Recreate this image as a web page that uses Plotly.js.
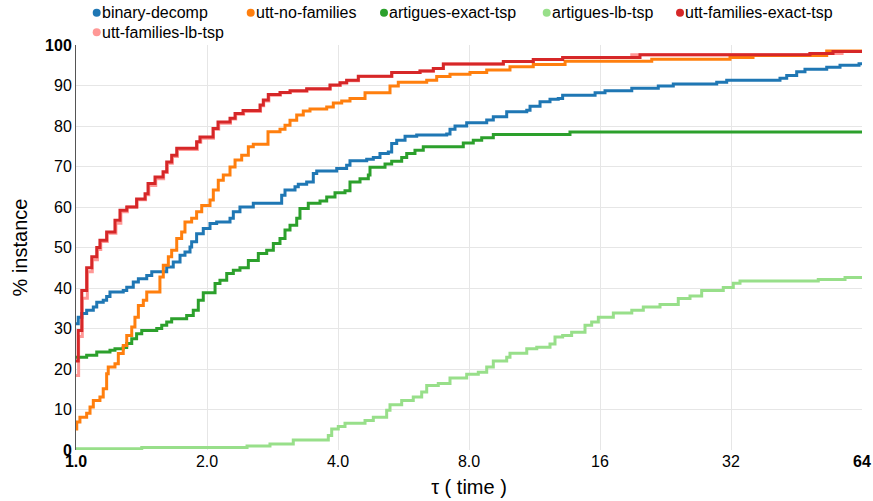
<!DOCTYPE html>
<html>
<head>
<meta charset="utf-8">
<script src="https://cdn.plot.ly/plotly-3.0.1.min.js"></script>
<style>html,body{margin:0;padding:0;background:#fff;}#chart{width:873px;height:501px;}</style>
</head>
<body>
<div id="chart"></div>
<script>
// ---- data (tau = performance ratio, pct = % of instances) ----
const seriesNames = ["binary-decomp","utt-no-families","artigues-exact-tsp","artigues-lb-tsp","utt-families-exact-tsp","utt-families-lb-tsp"];
const seriesColors = ["#1f77b4","#ff7f0e","#2ca02c","#98df8a","#d62728","#ff9896"];

const binaryTau = [1.0,1.012,1.031,1.058,1.096,1.116,1.155,1.176,1.197,1.284,1.308,1.354,1.391,1.454,1.493,1.616,1.673,1.734,1.780,1.828,1.844,1.893,1.961,2.032,2.105,2.259,2.299,2.381,2.555,2.969,3.022,3.186,3.242,3.389,3.510,3.574,3.973,4.187,4.262,4.656,4.822,4.995,5.220,5.314,5.457,5.703,6.066,7.110,7.235,7.429,7.903,8.786,9.098,9.766,10.86,11.05,11.65,12.28,12.83,13.13,15.59,16.43,18.93,21.78,23.58,29.67,31.28,41.47,42.97,45.3,47.33,53.1,56.97,63.0,64];
const binaryPct = [31.2,32.8,33.7,34.5,35.3,36.5,37.0,37.9,39.0,39.4,40.2,41.5,42.3,43.1,44.0,45.2,46.4,48.1,48.9,50.1,51.4,53.4,54.7,55.9,56.3,57.2,58.8,60.0,60.9,62.9,64.2,65.0,65.6,66.2,68.3,68.9,69.5,70.3,71.4,71.8,72.2,73.2,73.6,75.7,76.5,77.5,77.8,78.0,79.2,80.0,80.8,81.5,82.3,83.5,83.9,84.9,86.0,86.6,86.8,87.6,88.2,88.7,89.3,89.9,90.4,90.8,91.3,91.8,92.5,93.4,94.0,94.5,95.0,95.4,95.4];

const uttNoTau = [1.0,1.004,1.021,1.058,1.077,1.096,1.135,1.155,1.176,1.186,1.229,1.251,1.284,1.308,1.343,1.366,1.391,1.428,1.454,1.559,1.587,1.630,1.659,1.704,1.749,1.780,1.844,1.893,1.945,2.032,2.068,2.123,2.180,2.259,2.320,2.403,2.489,2.555,2.762,2.943,3.022,3.103,3.215,3.329,3.449,3.768,3.902,4.079,4.262,4.615,5.267,5.503,6.396,6.743,7.235,8.042,8.786,9.937,11.24,13.30,21.04,31.83,35.95,53.1,64];
const uttNoPct = [5.2,6.9,8.1,9.1,10.6,12.2,13.1,15.1,18.8,20.5,21.3,23.8,25.8,28.3,30.4,32.8,35.7,37.0,39.0,42.7,45.6,47.7,49.3,52.2,53.8,56.3,57.2,58.8,60.4,61.7,64.2,66.6,67.9,69.9,71.6,72.8,74.9,75.5,78.6,79.2,80.2,81.4,82.7,83.7,84.2,84.7,85.7,86.2,86.8,88.2,89.9,90.8,91.3,92.2,92.8,93.2,93.8,94.6,95.2,96.0,96.5,96.9,97.4,98.5,98.5];

const artExactTau = [1.0,1.058,1.116,1.197,1.229,1.284,1.308,1.343,1.378,1.416,1.533,1.574,1.616,1.659,1.796,1.860,1.910,1.961,2.087,2.142,2.220,2.299,2.381,2.489,2.624,2.743,2.841,2.943,3.022,3.103,3.215,3.271,3.418,3.637,3.768,3.937,4.151,4.262,4.494,4.696,4.738,5.130,5.314,5.603,5.754,6.011,6.281,7.762,8.183,8.556,9.098,13.65,64];
const artExactPct = [22.9,23.4,24.2,24.6,25.0,25.3,26.3,27.5,28.7,29.5,30.0,30.8,31.6,32.4,33.2,34.5,37.0,38.8,41.1,41.9,43.6,44.4,45.0,46.8,48.5,49.3,51.0,52.2,54.3,55.5,57.2,59.6,60.9,61.5,62.5,63.5,64.0,66.2,67.0,67.9,69.8,70.6,71.3,72.2,73.2,74.0,74.9,75.8,76.5,77.1,77.9,78.5,78.5];

const artLbTau = [1.0,1.416,2.472,2.791,3.157,3.800,3.869,4.006,4.151,4.615,4.822,5.175,5.267,5.603,5.957,6.228,6.396,6.800,7.235,7.903,8.404,8.786,9.098,9.766,9.937,10.86,11.45,12.28,12.61,13.13,13.77,14.78,15.31,15.86,17.17,18.93,20.12,21.98,24.21,25.76,27.40,30.72,32.39,33.56,50.78,58.50,64];
const artLbPct = [0.3,0.6,1.0,1.5,2.5,3.6,5.2,5.8,6.6,7.3,8.1,9.8,11.2,12.2,13.1,14.3,15.9,16.4,17.8,18.7,19.2,20.5,22.0,22.9,23.9,25.0,25.4,26.2,27.9,28.3,29.1,30.8,31.6,32.8,33.8,34.5,35.3,35.9,37.4,38.0,39.4,40.1,41.2,41.7,42.1,42.6,42.6];

const uttFamExactTau = [1.0,1.012,1.031,1.058,1.087,1.116,1.135,1.176,1.229,1.262,1.308,1.378,1.441,1.464,1.519,1.585,1.616,1.659,1.704,1.893,1.927,2.065,2.120,2.259,2.320,2.420,2.648,2.694,2.766,2.943,3.103,3.389,3.834,4.042,4.187,4.453,5.314,6.172,6.623,6.983,9.593,11.24,13.13,19.77,48.6,54.9,64];
const uttFamExactPct = [22.0,29.5,39.4,45.0,47.7,50.0,51.8,53.8,56.7,59.2,60.0,62.0,63.3,65.8,67.4,68.7,71.1,72.8,74.5,76.1,77.3,79.4,81.0,81.9,83.1,83.8,85.2,86.4,87.8,88.3,88.7,89.2,90.1,90.7,91.3,92.3,93.2,93.6,94.2,95.3,95.9,96.4,96.9,97.6,97.9,98.4,98.4];

const uttFamLbTau = [1.0,1.014,1.034,1.062,1.090,1.120,1.140,1.180,1.235,1.268,1.312,1.382,1.445,1.470,1.525,1.590,1.622,1.665,1.710,1.900,1.935,2.070,2.128,2.265,2.328,2.428,2.655,2.700,2.775,2.950,3.110,3.395,3.840,4.050,4.190,4.460,5.320,6.180,6.630,6.990,9.600,11.25,13.14,18.93,48.6,57.6,64];
const uttFamLbPct = [18.4,28.0,37.5,44.0,47.0,49.5,51.5,53.5,56.0,58.8,60.0,61.8,63.0,65.3,67.0,68.5,70.8,72.5,74.2,76.0,77.0,79.2,80.7,81.7,82.9,83.6,85.0,86.2,87.6,88.2,88.6,89.1,90.0,90.6,91.2,92.2,93.2,93.6,94.2,95.3,95.9,96.4,96.9,97.6,97.9,98.4,98.4];

const xTickVals = [1,2,4,8,16,32,64];
const xTickText = ["<b>1.0</b>","2.0","4.0","8.0","16","32","<b>64</b>"];
const yTickVals = [0,10,20,30,40,50,60,70,80,90,100];
const yTickText = ["<b>0</b>","10","20","30","40","50","60","70","80","90","<b>100</b>"];

// ---- build traces (pink drawn first, under red) ----
const xs = [binaryTau, uttNoTau, artExactTau, artLbTau, uttFamExactTau, uttFamLbTau];
const ys = [binaryPct, uttNoPct, artExactPct, artLbPct, uttFamExactPct, uttFamLbPct];
const drawOrder = [5,3,2,0,1,4];
const traces = drawOrder.map(i => ({
  type: "scatter", mode: "lines", name: seriesNames[i],
  x: xs[i], y: ys[i],
  line: {shape: "hv", color: seriesColors[i], width: 3},
  showlegend: false, hoverinfo: "skip"
}));

// ---- legend drawn as layout decorations ----
const L = 76, W = 786, B = 450, H = 405;
const px2x = p => (p - L) / W;
const py2y = p => (B - p) / H;
const legendPos = [[96.7,12.7],[250.7,12.7],[384,12.7],[546.7,12.7],[680,12.7],[96.7,32.3]];
const shapes = [], annotations = [];
seriesNames.forEach((n, i) => {
  const [cx, cy] = legendPos[i];
  shapes.push({type:"circle", xref:"paper", yref:"paper", xsizemode:"pixel", ysizemode:"pixel",
    xanchor: px2x(cx), yanchor: py2y(cy), x0:-4, x1:4, y0:-4, y1:4,
    fillcolor: seriesColors[i], line:{width:0}});
  annotations.push({xref:"paper", yref:"paper", x: px2x(cx + 4), y: py2y(cy), xanchor:"left", yanchor:"middle",
    text: n, showarrow:false, font:{size:16, color:"#000"}, borderpad:0});
});

const layout = {
  width: 873, height: 501,
  margin: {l: 76, r: 11, t: 45, b: 51},
  paper_bgcolor: "#fff", plot_bgcolor: "#fff",
  font: {family: "Liberation Sans, Arial, sans-serif", size: 16, color: "#000"},
  showlegend: false,
  xaxis: {type: "log", range: [0, Math.log10(64)], tickvals: xTickVals, ticktext: xTickText,
    showgrid: true, gridcolor: "#e6e6e6", gridwidth: 1, zeroline: false, showline: false,
    ticks: "", tickfont: {size: 16, color: "#000"},
    title: {text: "τ ( time )", font: {size: 20, color: "#000"}, standoff: 10}},
  yaxis: {range: [0, 100], tickvals: yTickVals, ticktext: yTickText,
    showgrid: true, gridcolor: "#e6e6e6", gridwidth: 1, zeroline: false,
    showline: true, linecolor: "#555", linewidth: 1, ticks: "",
    tickfont: {size: 16, color: "#000"},
    title: {text: "% instance", font: {size: 20, color: "#000"}, standoff: 12}},
  shapes: shapes, annotations: annotations
};

Plotly.newPlot("chart", traces, layout, {displayModeBar: false, staticPlot: true});
</script>
</body>
</html>
